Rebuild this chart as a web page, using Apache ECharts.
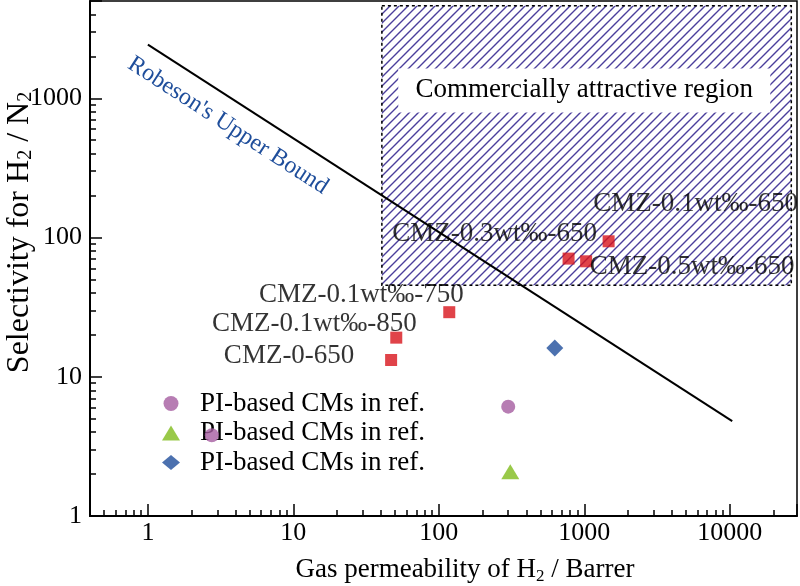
<!DOCTYPE html>
<html><head><meta charset="utf-8">
<script src="https://cdn.jsdelivr.net/npm/echarts@6/dist/echarts.min.js"></script>
<style>html,body{margin:0;padding:0;background:#fff}#c{width:800px;height:586px}</style>
</head><body><div id="c"></div>
<script>
// ---- data ----
const cmzNames = ['CMZ-0-650', 'CMZ-0.1wt‰-850', 'CMZ-0.1wt‰-750', 'CMZ-0.3wt‰-650', 'CMZ-0.5wt‰-650', 'CMZ-0.1wt‰-650'];
const cmzPerm = [47, 51, 118, 780, 1030, 1470];
const cmzSel = [13.2, 19.1, 29.1, 70.6, 67.5, 94];
const refCirclePerm = [2.75, 300];
const refCircleSel = [3.8, 6.1];
const refTrianglePerm = [310];
const refTriangleSel = [2.08];
const refDiamondPerm = [627];
const refDiamondSel = [16.1];
const robesonPerm = [1, 10400];
const robesonSel = [2430, 4.8];
const regionPerm = [40.6, 26500];
const regionSel = [45.4, 4630];
const legendName = 'PI-based CMs in ref.';
const regionText = 'Commercially attractive region';
const robesonText = "Robeson's Upper Bound";

// ---- styles ----
const FONT = 'Liberation Serif';
const labelOffsets = [[-102, -4], [-82, -14], [-88, -17], [-74, -25], [106, 6], [87, -37]];

function hatchCanvas() {
  const s = 9, c = document.createElement('canvas');
  c.width = s; c.height = s;
  const g = c.getContext('2d');
  g.strokeStyle = '#4b3f9c'; g.lineWidth = 1.4;
  g.beginPath();
  g.moveTo(0, s); g.lineTo(s, 0);
  g.moveTo(-2, 2); g.lineTo(2, -2);
  g.moveTo(s - 2, s + 2); g.lineTo(s + 2, s - 2);
  g.stroke();
  return c;
}
const hatch = hatchCanvas();

function isPow10(v) { const l = Math.log10(v); return Math.abs(l - Math.round(l)) < 1e-6; }

const zip = (a, b) => a.map((v, i) => [v, b[i]]);

const chart = echarts.init(document.getElementById('c'), null, {renderer: 'canvas'});
const option = {
  animation: false,
  backgroundColor: '#fff',
  grid: {left: 90, right: 3, top: 1, bottom: 70, containLabel: false, outerBoundsMode: 'none',
         show: true, borderColor: '#000', borderWidth: 1.5, backgroundColor: 'transparent'},
  legend: {
    orient: 'vertical', left: 157, top: 385, itemWidth: 18, itemHeight: 15, itemGap: 2.5,
    symbolKeepAspect: true,
    textStyle: {fontSize: 27, fontFamily: FONT, color: '#000', padding: [0, 0, 0, 15]},
    formatter: () => legendName,
    data: [legendName, legendName + '\u200b', legendName + '\u200b\u200b']
  },
  xAxis: {
    type: 'log', logBase: 10, min: 0.4, max: 29000,
    axisLine: {lineStyle: {color: '#000', width: 2}},
    axisTick: {inside: true, length: 12, lineStyle: {color: '#000', width: 1.5}},
    minorTick: {show: true, splitNumber: 9, length: 6, lineStyle: {color: '#000', width: 1.5}},
    splitLine: {show: false}, minorSplitLine: {show: false},
    axisLabel: {formatter: v => isPow10(v) ? String(Math.round(v)) : '', fontSize: 26, fontFamily: FONT, color: '#000', margin: 4},
    name: '{n|Gas permeability of H}{s|2}{n| / Barrer}',
    nameLocation: 'middle', nameGap: 40,
    nameTextStyle: {padding: [0, 0, 0, 43], rich: {
      n: {fontSize: 27, fontFamily: FONT, color: '#000', verticalAlign: 'top'},
      s: {fontSize: 17, fontFamily: FONT, color: '#000', verticalAlign: 'top', padding: [12, 0, 0, 0]}
    }}
  },
  yAxis: {
    type: 'log', logBase: 10, min: 1, max: 5000,
    axisLine: {lineStyle: {color: '#000', width: 2}},
    axisTick: {inside: true, length: 12, lineStyle: {color: '#000', width: 1.5}},
    minorTick: {show: true, splitNumber: 9, length: 6, lineStyle: {color: '#000', width: 1.5}},
    splitLine: {show: false}, minorSplitLine: {show: false},
    axisLabel: {formatter: v => isPow10(v) ? String(Math.round(v)) : '', fontSize: 26, fontFamily: FONT, color: '#000', margin: 8},
    name: '{n|Selectivity for H}{s|2}{n| / N}{s|2}',
    nameLocation: 'middle', nameGap: 54, nameMoveOverlap: false,
    nameTextStyle: {padding: [0, 0, 0, 52], rich: {
      n: {fontSize: 32, fontFamily: FONT, color: '#000', verticalAlign: 'top'},
      s: {fontSize: 20, fontFamily: FONT, color: '#000', verticalAlign: 'top', padding: [12, 0, 0, 0]}
    }}
  },
  series: [
    {
      type: 'custom', z: 1, silent: true,
      data: [[regionPerm[0], regionSel[0], regionPerm[1], regionSel[1]]],
      encode: {x: [0, 2], y: [1, 3]},
      renderItem(params, api) {
        const p0 = api.coord([api.value(0), api.value(1)]);
        const p1 = api.coord([api.value(2), api.value(3)]);
        const c = api.coord([1000, 1140]);
        const r = api.coord([3.55, 638]);
        return {type: 'group', children: [
          {type: 'rect', shape: {x: p0[0], y: p1[1], width: p1[0] - p0[0], height: p0[1] - p1[1]},
           style: {fill: {image: hatch, repeat: 'repeat'}, stroke: '#000', lineWidth: 1.5, lineDash: [3, 3]}},
          {type: 'rect', shape: {x: c[0] - 186, y: c[1] - 22, width: 372, height: 44}, style: {fill: '#fff'}},
          {type: 'text', x: c[0], y: c[1], style: {text: regionText, font: '27px "' + FONT + '"', fill: '#000', align: 'center', verticalAlign: 'middle'}},
          {type: 'text', x: r[0], y: r[1], rotation: -0.576, style: {text: robesonText, font: '24px "' + FONT + '"', fill: '#1f4e9b', align: 'center', verticalAlign: 'middle'}}
        ]};
      }
    },
    {
      type: 'line', z: 3, silent: true, symbol: 'none',
      data: zip(robesonPerm, robesonSel),
      lineStyle: {color: '#000', width: 2}
    },
    {
      name: 'CMZ', type: 'scatter', z: 10, symbol: 'rect', symbolSize: 12,
      itemStyle: {color: '#d8141c'},
      data: cmzPerm.map((p, i) => ({
        value: [p, cmzSel[i]],
        label: {show: true, formatter: cmzNames[i], position: 'inside', offset: labelOffsets[i],
                fontSize: 27, fontFamily: FONT, color: '#000'}
      }))
    },
    {
      name: legendName, type: 'scatter', z: 10, symbol: 'circle', symbolSize: 14,
      itemStyle: {color: '#a55ca0'}, data: zip(refCirclePerm, refCircleSel)
    },
    {
      name: legendName + '\u200b', type: 'scatter', z: 10, symbol: 'triangle', symbolSize: [18, 15],
      itemStyle: {color: '#80bb1c'}, data: zip(refTrianglePerm, refTriangleSel)
    },
    {
      name: legendName + '\u200b\u200b', type: 'scatter', z: 10, symbol: 'diamond', symbolSize: 17,
      itemStyle: {color: '#1f4d9b'}, data: zip(refDiamondPerm, refDiamondSel)
    }
  ]
};
chart.setOption(option);
</script>
</body></html>
